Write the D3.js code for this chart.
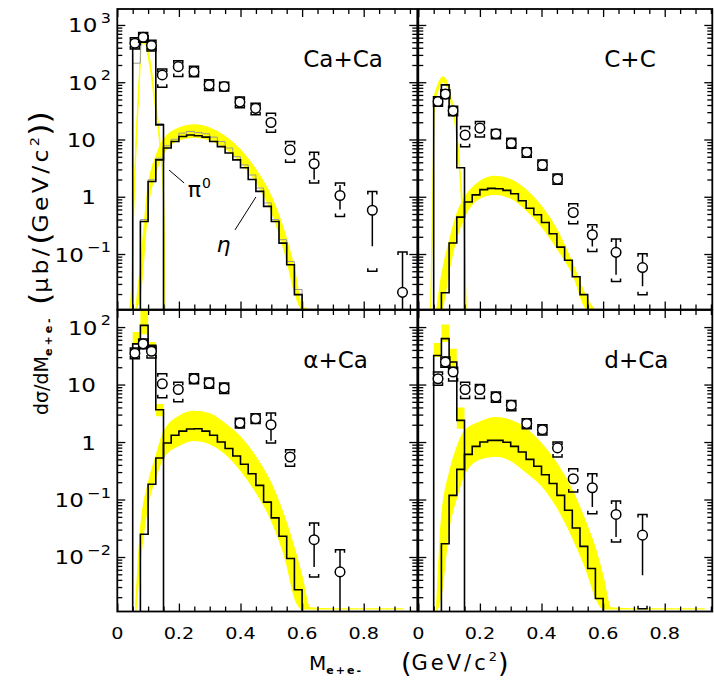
<!DOCTYPE html>
<html>
<head>
<meta charset="utf-8">
<script src="https://cdn.jsdelivr.net/npm/d3@7/dist/d3.min.js"></script>
<style>
  body { margin: 0; background: #fff; }
  text { font-family: "DejaVu Sans", sans-serif; fill: #000; }
</style>
</head>
<body>
<svg id="chart" width="714" height="691"></svg>
<script>
// ---- values ----
var panelNames = ["Ca+Ca", "C+C", "\u03b1+Ca", "d+Ca"];

// measured spectra (open circles); left and right columns read separately
var massLeft = [0.057, 0.084, 0.111, 0.146, 0.198, 0.249, 0.298, 0.347, 0.398, 0.449, 0.499, 0.561, 0.639, 0.723, 0.828, 0.926];
var massRight = [0.064, 0.088, 0.113, 0.152, 0.2, 0.252, 0.302, 0.352, 0.403, 0.452, 0.503, 0.565, 0.642, 0.728];
var dataValues = [
    [480, 610, 437, 134, 187, 153, 90, 84, 45, 35, 19.8, 6.6, 3.77, 1.05, 0.58, 0.0214],
    [46, 62, 31.6, 12, 15.8, 12.6, 8.6, 6.0, 3.6, 2.03, 0.53, 0.217, 0.107, 0.058],
    [35, 51, 38, 10.3, 8.2, 12.6, 10.6, 8.7, 2.14, 2.55, 2.0, 0.55, 0.02, 0.0055],
    [12.6, 24.6, 16.5, 8.2, 8.2, 6.07, 4.35, 2.09, 1.64, 0.79, 0.23, 0.16, 0.055, 0.024]
];
// systematic errors (bracket caps)
var sysLow = [
    [380, 500, 350, 82, 126, 125, 72, 70, 36, 27, 13.4, 4.0, 1.73, 0.454, 0.05, null],
    [38, 52, 26, 7.5, 11, 10.3, 7, 4.9, 2.9, 1.65, 0.338, 0.111, 0.033, 0.0195],
    [28, 42, 29, 5.9, 5.0, 10.3, 8.6, 7, 1.75, 2.1, 0.96, 0.378, 0.0045, null],
    [9.7, 20, 11.5, 5.7, 5.7, 4.9, 3.5, 1.7, 1.33, 0.548, 0.135, 0.0568, 0.0182, 0.00126]
];
var sysHigh = [
    [600, 740, 540, 170, 236, 190, 110, 100, 55, 43, 28.8, 9.2, 6.0, 1.73, 1.24, 0.108],
    [56, 74, 38, 16.9, 20.6, 15, 10.5, 7.2, 4.4, 2.5, 0.755, 0.325, 0.183, 0.101],
    [43, 62, 46, 15.4, 11, 15.4, 13, 10.6, 2.6, 3.1, 3.19, 0.736, 0.039, 0.0134],
    [16.5, 30, 20, 11, 10, 7.4, 5.3, 2.55, 2.0, 1.0, 0.343, 0.281, 0.094, 0.055]
];
// statistical errors (vertical lines)
var statLow = [
    [null, null, null, null, null, null, null, null, null, null, null, null, 2.0, 0.6, 0.136, 0.0001],
    [null, null, null, null, null, null, null, null, null, null, null, 0.135, 0.0436, 0.0273],
    [null, null, null, null, null, null, null, null, null, null, 1.05, null, 0.0067, 0.0001],
    [null, null, null, null, null, null, null, null, null, null, null, 0.074, 0.0223, 0.0048]
];
var statHigh = [
    [null, null, null, null, null, null, null, null, null, null, null, null, 5.8, 1.6, 1.24, 0.108],
    [null, null, null, null, null, null, null, null, null, null, null, 0.31, 0.183, 0.101],
    [null, null, null, null, null, null, null, null, null, null, 3.19, null, 0.039, 0.0134],
    [null, null, null, null, null, null, null, null, null, null, null, 0.281, 0.094, 0.055]
];

// pi0 Dalitz histograms
var pi0Edges = [0.05, 0.075, 0.1, 0.125, 0.15];
var pi0Hist = [
    [450, 650, 430, 18],
    [48, 90, 34, 3.2],
    [51, 107, 48, 3.65],
    [32, 63, 24.6, 2.38]
];
var pi0HistGray = [215, 560, 400, 19];

// eta Dalitz histograms
var etaEdges = [0.075, 0.1, 0.125, 0.15, 0.175, 0.2, 0.225, 0.25, 0.275, 0.3, 0.325,
    0.35, 0.375, 0.4, 0.425, 0.45, 0.475, 0.5, 0.525, 0.55, 0.575, 0.6];
var etaHist = [
    [0.37, 1.85, 4.4, 7.1, 9.2, 11.3, 12.0, 11.6, 11.0, 9.2, 7.5, 5.8, 4.4, 3.2, 2.0, 1.24, 0.68, 0.37, 0.155, 0.065, 0.0195],
    [0.021, 0.156, 0.44, 0.81, 1.08, 1.33, 1.40, 1.38, 1.29, 1.13, 0.85, 0.63, 0.485, 0.356, 0.226, 0.132, 0.078, 0.04, 0.0195],
    [0.0248, 0.184, 0.527, 0.96, 1.31, 1.55, 1.68, 1.7, 1.55, 1.31, 1.0, 0.77, 0.57, 0.41, 0.28, 0.176, 0.09, 0.048, 0.023, 0.0094, 0.0027],
    [0.017, 0.118, 0.335, 0.61, 0.84, 1.0, 1.07, 1.07, 0.99, 0.84, 0.67, 0.5, 0.38, 0.27, 0.19, 0.118, 0.065, 0.032, 0.0153, 0.0063, 0.0019]
];
var etaHistGray = [0.40, 1.98, 4.7, 7.76, 10.1, 12.9, 13.8, 13.2, 12.6, 11, 9.2, 7.1, 5.0, 3.6, 2.4, 1.42, 0.78, 0.4, 0.178, 0.074, 0.024];

// yellow model bands
var pi0BandMass = [0.04, 0.047, 0.052, 0.06, 0.07, 0.08, 0.09, 0.1, 0.11, 0.12, 0.13, 0.14, 0.15, 0.155];
var pi0BandLow = [
    [0.001, 0.02, 0.3, 5, 65, 480, 460, 280, 135, 50, 20, 6, 0.8, 0.001],
    [0.001, 0.5, 35, 60, 85, 100, 90, 60, 35, 17, 5, 0.9, 0.1, 0.001]
];
var pi0BandHigh = [
    [0.001, 0.03, 0.5, 8, 95, 640, 600, 360, 175, 65, 27, 8, 1.3, 0.001],
    [0.001, 1.5, 55, 80, 110, 125, 112, 75, 45, 22, 7, 1.4, 0.2, 0.001]
];
var pi0StepLow = [[50, 75, 44, 2.8], [30, 55, 19, 1.7]];
var pi0StepHigh = [[82, 250, 55, 4.6], [53, 111, 42, 4]];

var etaBandMass = [0.06, 0.075, 0.1, 0.125, 0.15, 0.2, 0.25, 0.3, 0.35, 0.4, 0.45, 0.5, 0.55, 0.575, 0.6, 0.625, 0.7, 0.93];
var etaBandLow = [
    [0.001, 0.02, 0.676, 2.59, 5.78, 9.86, 11.0, 9.86, 7.06, 4.13, 1.85, 0.555, 0.079, 0.022, 0.001, 0.001, 0.001, 0.001],
    [0.001, 0.003, 0.053, 0.2, 0.454, 0.948, 1.11, 0.948, 0.593, 0.304, 0.127, 0.0467, 0.006, 0.001, 0.001, 0.001, 0.001, 0.001],
    [0.0001, 0.0087, 0.085, 0.245, 0.55, 0.875, 1.07, 0.935, 0.63, 0.324, 0.135, 0.0437, 0.0076, 0.002, 0.00125, 0.00125, 0.00125, 0.00125],
    [0.0001, 0.0023, 0.033, 0.11, 0.28, 0.51, 0.57, 0.48, 0.3, 0.176, 0.074, 0.0223, 0.0051, 0.002, 0.00125, 0.00125, 0.00125, 0.00125]
];
var etaBandHigh = [
    [0.001, 0.06, 1.51, 5.05, 9.86, 15.8, 18.0, 15.8, 11.3, 6.6, 2.96, 1.01, 0.178, 0.055, 0.012, 0.001, 0.001, 0.001],
    [0.001, 0.04, 0.16, 0.5, 0.95, 1.85, 2.26, 1.98, 1.32, 0.678, 0.265, 0.07, 0.016, 0.004, 0.001, 0.001, 0.001, 0.001],
    [0.0015, 0.029, 0.188, 0.55, 1.49, 2.79, 3.41, 3.11, 2.08, 1.22, 0.548, 0.188, 0.038, 0.014, 0.0045, 0.0013, 0.00125, 0.00125],
    [0.0015, 0.045, 0.28, 0.8, 1.55, 2.23, 2.65, 2.38, 1.71, 0.935, 0.42, 0.144, 0.033, 0.014, 0.0045, 0.0013, 0.00125, 0.00125]
];

// ticks
var xMajorTicks = [0, 0.2, 0.4, 0.6, 0.8];
var xTickLabels = ["0", "0.2", "0.4", "0.6", "0.8"];
var xMinorTicks = [0.05, 0.1, 0.15, 0.25, 0.3, 0.35, 0.45, 0.5, 0.55, 0.65, 0.7, 0.75, 0.85, 0.9, 0.95];
var yTickValues = [[1000, 100, 10, 1, 0.1], [100, 10, 1, 0.1, 0.01]];
var yTickBase = [["10", "10", "10", "1", "10"], ["10", "10", "1", "10", "10"]];
var yTickExp = [["3", "2", "", "", "\u22121"], ["2", "", "", "\u22121", "\u22122"]];

// ---- drawing ----
var svg = d3.select("#chart");
var yellow = "#ffff00";

var xLeft = d3.scaleLinear().domain([0, 0.974]).range([117.3, 417.3]);
var xRight = d3.scaleLinear().domain([0, 0.9545]).range([418.3, 712.3]);
var yUpper = d3.scaleLog().domain([0.01074, 1900]).range([309.5, 9]).clamp(true);
var yLower = d3.scaleLog().domain([0.001127, 198]).range([611.5, 310]).clamp(true);
var scales = [[xLeft, yUpper], [xRight, yUpper], [xLeft, yLower], [xRight, yLower]];

// histogram outline: up from the floor, steps, back down to the floor
function stepPath(edges, vals, x, y) {
    var pts = [[edges[0], 1e-7]];
    vals.forEach(function (v, k) {
        pts.push([edges[k], v]);
        pts.push([edges[k + 1], v]);
    });
    pts.push([edges[vals.length], 1e-7]);
    return d3.line().x(function (d) { return x(d[0]); }).y(function (d) { return y(d[1]); })(pts);
}

function addAxis(axis, tx, ty, vals, size) {
    svg.append("g")
        .attr("transform", "translate(" + tx + "," + ty + ")")
        .call(axis.tickValues(vals).tickSize(size).tickFormat(""))
        .call(function (g) { g.select(".domain").remove(); })
        .selectAll("line").attr("stroke-width", 1.3);
}

scales.forEach(function (s, i) {
    var x = s[0], y = s[1];
    var x0 = x.range()[0], x1 = x.range()[1];
    var yb = y.range()[0], yt = y.range()[1];
    var mass = i % 2 === 0 ? massLeft : massRight;

    svg.append("clipPath").attr("id", "clip" + i).append("rect")
        .attr("x", x0).attr("y", yt).attr("width", x1 - x0).attr("height", yb - yt);
    var plot = svg.append("g").attr("clip-path", "url(#clip" + i + ")");

    var band = d3.area()
        .x(function (d) { return x(d.m); })
        .y0(function (d) { return y(d.lo); })
        .y1(function (d) { return y(d.hi); });

    // eta band
    plot.append("path")
        .datum(etaBandMass.map(function (m, k) { return { m: m, lo: etaBandLow[i][k], hi: etaBandHigh[i][k] }; }))
        .attr("d", band.curve(d3.curveMonotoneX))
        .attr("fill", yellow).attr("stroke", yellow).attr("stroke-width", 1.2);

    // pi0 band
    if (i < 2) {
        plot.append("path")
            .datum(pi0BandMass.map(function (m, k) { return { m: m, lo: pi0BandLow[i][k], hi: pi0BandHigh[i][k] }; }))
            .attr("d", band.curve(d3.curveMonotoneX))
            .attr("fill", yellow).attr("stroke", yellow).attr("stroke-width", 1);
    } else {
        var j = i - 2;
        plot.append("path")
            .datum(pi0Edges.map(function (m, k) {
                var b = Math.min(k, pi0StepLow[j].length - 1);
                return { m: m, lo: pi0StepLow[j][b], hi: pi0StepHigh[j][b] };
            }))
            .attr("d", band.curve(d3.curveStepAfter))
            .attr("fill", yellow);
    }

    // gray histograms (Ca+Ca only)
    if (i === 0) {
        plot.append("path").attr("d", stepPath(etaEdges, etaHistGray, x, y))
            .attr("fill", "none").attr("stroke", "#9a9a9a").attr("stroke-width", 1);
        plot.append("path").attr("d", stepPath(pi0Edges, pi0HistGray, x, y))
            .attr("fill", "none").attr("stroke", "#9a9a9a").attr("stroke-width", 1);
    }

    // black histograms
    plot.append("path").attr("d", stepPath(pi0Edges, pi0Hist[i], x, y))
        .attr("fill", "none").attr("stroke", "#000").attr("stroke-width", 1.6);
    plot.append("path").attr("d", stepPath(etaEdges, etaHist[i], x, y))
        .attr("fill", "none").attr("stroke", "#000").attr("stroke-width", 1.6);

    // data points with errors
    dataValues[i].forEach(function (v, k) {
        var cx = x(mass[k]);
        if (statLow[i][k] !== null) {
            plot.append("line")
                .attr("x1", cx).attr("x2", cx)
                .attr("y1", y(statHigh[i][k])).attr("y2", y(statLow[i][k]))
                .attr("stroke", "#000").attr("stroke-width", 1.5);
        }
        [[sysHigh[i][k], 1], [sysLow[i][k], -1]].forEach(function (b) {
            if (b[0] === null) return;
            var yy = y(b[0]);
            plot.append("path")
                .attr("d", "M" + (cx - 4.5) + "," + (yy + b[1] * 3) + "V" + yy + "H" + (cx + 4.5) + "V" + (yy + b[1] * 3))
                .attr("fill", "none").attr("stroke", "#000").attr("stroke-width", 1.5);
        });
        plot.append("circle")
            .attr("cx", cx).attr("cy", y(v)).attr("r", 4.8)
            .attr("fill", "#fff").attr("stroke", "#000").attr("stroke-width", 1.5);
    });

    // frame
    svg.append("rect")
        .attr("x", x0).attr("y", yt).attr("width", x1 - x0).attr("height", yb - yt)
        .attr("fill", "none").attr("stroke", "#000").attr("stroke-width", 1.8);

    // ticks on all four sides, pointing inwards
    var all = y.ticks();
    var decades = all.filter(function (t) {
        var l = Math.log10(t);
        return Math.abs(l - Math.round(l)) < 1e-6;
    });
    var minors = all.filter(function (t) { return decades.indexOf(t) < 0; });
    addAxis(d3.axisRight(y), x0, 0, decades, 8);
    addAxis(d3.axisRight(y), x0, 0, minors, 5);
    addAxis(d3.axisLeft(y), x1, 0, decades, 8);
    addAxis(d3.axisLeft(y), x1, 0, minors, 5);
    var xMin = xMinorTicks.filter(function (t) { return t < x.domain()[1]; });
    addAxis(d3.axisTop(x), 0, yb, xMajorTicks, 8);
    addAxis(d3.axisTop(x), 0, yb, xMin, 5);
    addAxis(d3.axisBottom(x), 0, yt, xMajorTicks, 8);
    addAxis(d3.axisBottom(x), 0, yt, xMin, 5);

    // panel name
    svg.append("text")
        .attr("x", x0 + 186).attr("y", yt + 58)
        .attr("font-size", 23)
        .text(panelNames[i]);

    // y tick labels on the left column
    if (i % 2 === 0) {
        var row = i < 2 ? 0 : 1;
        yTickValues[row].forEach(function (v, k) {
            var exp = yTickExp[row][k];
            var t = svg.append("text")
                .attr("transform", "translate(" + (exp ? 111 : 96) + "," + (y(v) + 7.5) + ") scale(1.15,1)")
                .attr("text-anchor", "end").attr("font-size", 20);
            t.append("tspan").text(yTickBase[row][k]);
            if (exp) {
                t.append("tspan").attr("dx", 3).attr("dy", -9.5).attr("font-size", 14).text(exp);
            }
        });
    }

    // x tick labels on the bottom row
    if (i >= 2) {
        xMajorTicks.forEach(function (v, k) {
            svg.append("text")
                .attr("transform", "translate(" + x(v) + ",638.5) scale(1.2,1)")
                .attr("text-anchor", "middle").attr("font-size", 16)
                .text(xTickLabels[k]);
        });
    }
});

// pi0 / eta annotations in the Ca+Ca panel
var notes = svg.append("g");
notes.append("line")
    .attr("x1", xLeft(0.168)).attr("y1", yUpper(2.93))
    .attr("x2", xLeft(0.217)).attr("y2", yUpper(1.74))
    .attr("stroke", "#000").attr("stroke-width", 1);
notes.append("line")
    .attr("x1", xLeft(0.382)).attr("y1", yUpper(0.263))
    .attr("x2", xLeft(0.45)).attr("y2", yUpper(0.99))
    .attr("stroke", "#000").attr("stroke-width", 1);
var piText = notes.append("text")
    .attr("x", xLeft(0.229)).attr("y", yUpper(0.99)).attr("font-size", 22);
piText.append("tspan").text("\u03c0");
piText.append("tspan").attr("dy", -9).attr("dx", 1).attr("font-size", 14).text("0");
notes.append("text")
    .attr("x", xLeft(0.322)).attr("y", yUpper(0.11))
    .attr("font-size", 22).attr("font-style", "italic")
    .text("\u03b7");

// axis titles
var xt = svg.append("text").attr("x", 309).attr("y", 670).attr("font-size", 20);
xt.append("tspan").text("M");
xt.append("tspan").attr("dy", 4).attr("font-size", 11).attr("font-weight", "bold")
    .attr("letter-spacing", 2).text("e+e-");
var xt2 = svg.append("text").attr("x", 401).attr("y", 672).attr("font-size", 21);
xt2.append("tspan").attr("font-size", 27).text("(");
xt2.append("tspan").attr("dy", -2).attr("letter-spacing", 3).text("GeV/c");
xt2.append("tspan").attr("dy", -9).attr("font-size", 13).text("2");
xt2.append("tspan").attr("dy", 11).attr("dx", 1).attr("font-size", 27).text(")");

var yt = svg.append("text")
    .attr("transform", "translate(48,415) rotate(-90)")
    .attr("font-size", 19);
yt.append("tspan").text("d\u03c3/dM");
yt.append("tspan").attr("dy", 4).attr("font-size", 11).attr("font-weight", "bold")
    .attr("letter-spacing", 3).text("e+e-");
var yt2 = svg.append("text")
    .attr("transform", "translate(50,305) rotate(-90) scale(1.12,1)")
    .attr("font-size", 21);
yt2.append("tspan").attr("font-size", 28).text("(");
yt2.append("tspan").attr("dy", -2).attr("letter-spacing", 3).text("\u03bcb/");
yt2.append("tspan").attr("dy", 2).attr("font-size", 28).text("(");
yt2.append("tspan").attr("dy", -2).attr("letter-spacing", 3).text("GeV/c");
yt2.append("tspan").attr("dy", -9).attr("font-size", 13).text("2");
yt2.append("tspan").attr("dy", 11).attr("dx", 1).attr("font-size", 28).text("))");
</script>
</body>
</html>
